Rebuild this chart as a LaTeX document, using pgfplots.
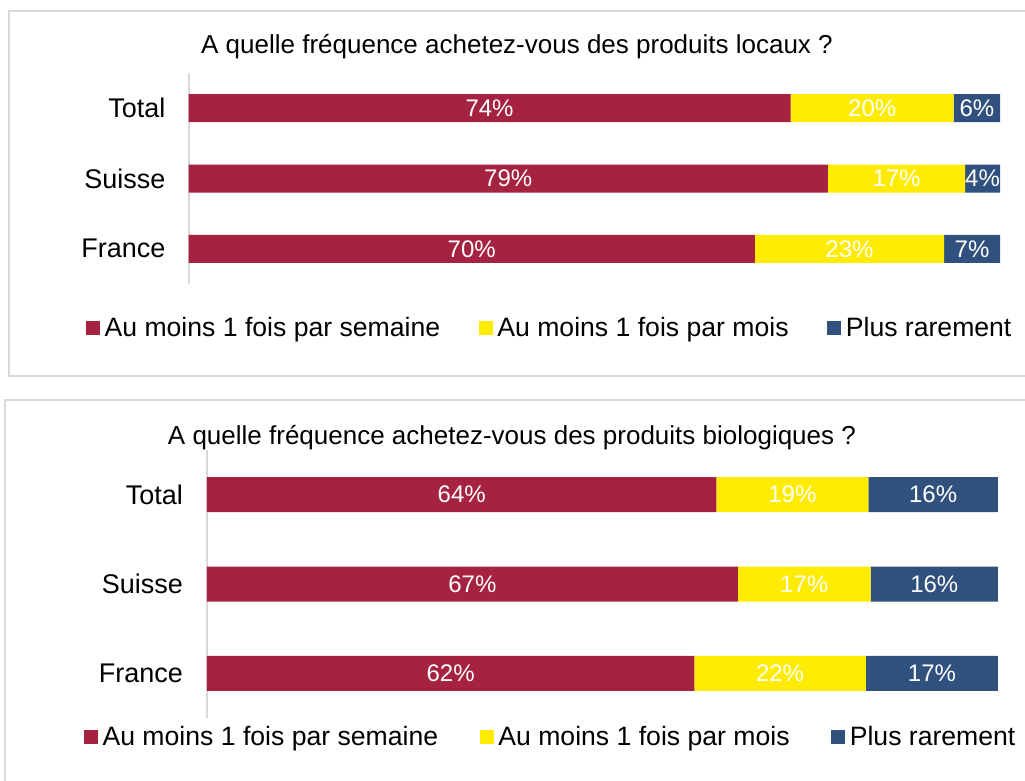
\documentclass[border=0pt]{standalone}
\usepackage{pgfplots}
\pgfplotsset{compat=1.18}
\usepackage{pgfplotstable}
\usepackage{fontspec}
\setmainfont{Liberation Sans}

\definecolor{cRed}{HTML}{A52341}
\definecolor{cYel}{HTML}{FFEC00}
\definecolor{cBlu}{HTML}{30507E}
\definecolor{cGrid}{HTML}{D9D9D9}

% rows: 0 = France, 1 = Suisse, 2 = Total
\pgfplotstableread{
cat red yellow blue
0 69.8 23.3 6.9
1 78.8 16.9 4.3
2 74.2 20.1 5.7
}\locaux
\pgfplotstableread{
cat red yellow blue
0 61.6 21.7 16.7
1 67.1 16.8 16.1
2 64.4 19.2 16.4
}\bio

\pgfplotsset{
  panel/.style={
    xbar stacked,
    scale only axis,
    xmin=0, xmax=100,
    ymin=-0.5, ymax=2.5,
    axis x line=none,
    axis y line*=left,
    y axis line style={draw=cGrid, line width=1pt},
    ytick={0,1,2},
    yticklabels={France,Suisse,Total},
    major tick length=0pt,
    yticklabel style={font=\fontsize{13.5}{15}\selectfont, text=black},
    point meta=explicit,
    nodes near coords={\pgfmathprintnumber[fixed,precision=0,assume math mode=true]{\pgfplotspointmeta}\%},
    nodes near coords align={center},
    every node near coord/.append style={anchor=center, text=white, font=\fontsize{12}{14}\selectfont},
    legend columns=3,
    legend cell align=left,
    legend image code/.code={\fill[##1] (0pt,-3.5pt) rectangle (7pt,3.5pt);},
    legend style={draw=none, fill=none, inner sep=0pt, outer sep=0pt,
      font=\fontsize{13.3}{15}\selectfont,
      nodes={inner xsep=2.3pt, inner ysep=0pt},
      /tikz/every even column/.append style={column sep=17pt}},
  }
}

\begin{document}
\begin{tikzpicture}
\useasboundingbox (0,0) rectangle (512.5pt,-390.5pt);

% panel frames
\draw[cGrid, line width=1pt] (520pt,-5.5pt) -- (4.25pt,-5.5pt) -- (4.25pt,-188.25pt) -- (520pt,-188.25pt);
\draw[cGrid, line width=1pt] (520pt,-200.25pt) -- (2.25pt,-200.25pt) -- (2.25pt,-400pt);

% titles
\node[font=\fontsize{13}{15}\selectfont] at (258.5pt,-23.5pt) {A quelle fréquence achetez-vous des produits locaux ?};
\node[font=\fontsize{13}{15}\selectfont] at (256pt,-219pt) {A quelle fréquence achetez-vous des produits biologiques ?};

\begin{axis}[panel,
  at={(94.25pt,-142pt)}, anchor=south west,
  width=405.75pt, height=105.5pt,
  bar width=14pt,
  yticklabel style={xshift=-8pt},
  legend style={at={(axis description cs:-0.1263,-0.2085)}, anchor=west},
]
\addplot[fill=cRed, draw=none] table[x=red, y=cat, meta=red] {\locaux};
\addplot[fill=cYel, draw=none] table[x=yellow, y=cat, meta=yellow] {\locaux};
\addplot[fill=cBlu, draw=none] table[x=blue, y=cat, meta=blue] {\locaux};
\legend{Au moins 1 fois par semaine, Au moins 1 fois par mois, Plus rarement}
\end{axis}

\begin{axis}[panel,
  at={(103.5pt,-359pt)}, anchor=south west,
  width=395.5pt, height=134pt,
  bar width=17.5pt,
  yticklabel style={xshift=-8.5pt},
  legend style={at={(axis description cs:-0.1555,-0.0709)}, anchor=west,
    /tikz/every even column/.append style={column sep=18.5pt}},
]
\addplot[fill=cRed, draw=none] table[x=red, y=cat, meta=red] {\bio};
\addplot[fill=cYel, draw=none] table[x=yellow, y=cat, meta=yellow] {\bio};
\addplot[fill=cBlu, draw=none] table[x=blue, y=cat, meta=blue] {\bio};
\legend{Au moins 1 fois par semaine, Au moins 1 fois par mois, Plus rarement}
\end{axis}
\end{tikzpicture}
\end{document}
